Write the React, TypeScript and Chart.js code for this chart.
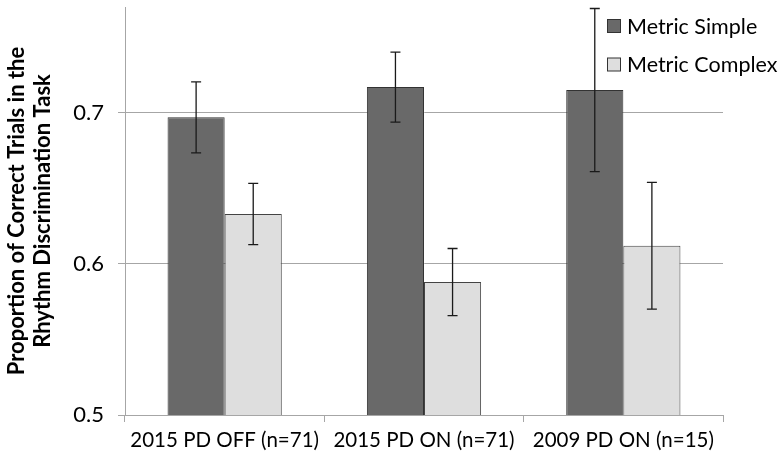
import React, { useEffect, useRef } from "react";
import { Chart, registerables } from "chart.js";

Chart.register(...registerables);

const categories = ["2015 PD OFF (n=71)", "2015 PD ON (n=71)", "2009 PD ON (n=15)"];
const seriesNames = ["Metric Simple", "Metric Complex"];
const simpleValues = [0.697, 0.717, 0.715];
const simpleErrors = [0.0235, 0.0232, 0.054];
const complexValues = [0.633, 0.588, 0.612];
const complexErrors = [0.0203, 0.0222, 0.042];
const yTicks = [0.5, 0.6, 0.7];
const yTitle = ["Proportion of Correct Trials in the", "Rhythm Discrimination Task"];

const FONT = "Lato, 'Liberation Sans', sans-serif";
const DARK = "#696969";
const LIGHT = "#dedede";

const errorBarPlugin = {
  id: "errorBars",
  afterDatasetsDraw(chart: any) {
    const ctx = chart.ctx;
    const errs = [simpleErrors, complexErrors];
    const y = chart.scales.y;
    ctx.save();
    ctx.strokeStyle = "#1a1a1a";
    ctx.lineWidth = 1.3;
    chart.data.datasets.forEach((ds: any, di: number) => {
      const meta = chart.getDatasetMeta(di);
      meta.data.forEach((bar: any, i: number) => {
        const v = ds.data[i];
        const e = errs[di][i];
        const top = y.getPixelForValue(v + e);
        const bot = y.getPixelForValue(v - e);
        const x = bar.x;
        ctx.beginPath();
        ctx.moveTo(x, top);
        ctx.lineTo(x, bot);
        ctx.moveTo(x - 5, top);
        ctx.lineTo(x + 5, top);
        ctx.moveTo(x - 5, bot);
        ctx.lineTo(x + 5, bot);
        ctx.stroke();
      });
    });
    ctx.restore();
  },
};

const legendPlugin = {
  id: "customLegend",
  afterDraw(chart: any) {
    const ctx = chart.ctx;
    const items = [
      { name: seriesNames[0], color: DARK },
      { name: seriesNames[1], color: LIGHT },
    ];
    ctx.save();
    ctx.font = `21.5px ${FONT}`;
    ctx.textBaseline = "middle";
    ctx.textAlign = "left";
    items.forEach((it, i) => {
      const yc = 26 + i * 38.5;
      ctx.fillStyle = it.color;
      ctx.fillRect(607.5, yc - 6.5, 13, 13);
      ctx.strokeStyle = "#333";
      ctx.lineWidth = 1;
      ctx.strokeRect(607.5, yc - 6.5, 13, 13);
      ctx.fillStyle = "#000";
      ctx.fillText(it.name, 627, yc + 1);
    });
    ctx.restore();
  },
};

export default function App() {
  const ref = useRef<HTMLCanvasElement | null>(null);
  useEffect(() => {
    if (!ref.current) return;
    const chart = new Chart(ref.current, {
      type: "bar",
      data: {
        labels: categories,
        datasets: [
          {
            label: seriesNames[0],
            data: simpleValues,
            backgroundColor: DARK,
            borderColor: "#333",
            borderWidth: 1,
            categoryPercentage: 0.573,
            barPercentage: 1,
          },
          {
            label: seriesNames[1],
            data: complexValues,
            backgroundColor: LIGHT,
            borderColor: "#444",
            borderWidth: 1,
            categoryPercentage: 0.573,
            barPercentage: 1,
          },
        ],
      },
      options: {
        animation: false,
        responsive: false,
        maintainAspectRatio: false,
        layout: { padding: { left: 0, right: 61, top: 7, bottom: 0 } },
        plugins: { legend: { display: false }, tooltip: { enabled: false } },
        scales: {
          x: {
            grid: {
              offset: true,
              drawOnChartArea: false,
              drawTicks: true,
              tickLength: 7,
              color: "#a6a6a6",
            },
            border: { color: "#a6a6a6", width: 1 },
            ticks: { color: "#000", font: { family: FONT, size: 20.5 }, padding: 6, maxRotation: 0 },
            afterFit: (s: any) => {
              s.height = 49;
              s.paddingLeft = 0;
              s.paddingRight = 0;
            },
          },
          y: {
            min: 0.5,
            max: 0.77,
            afterBuildTicks: (s: any) => {
              s.ticks = yTicks.map((v) => ({ value: v }));
            },
            grid: { color: "#a6a6a6", tickLength: 7, lineWidth: 1 },
            border: { color: "#a6a6a6", width: 1 },
            ticks: {
              color: "#000",
              font: { family: FONT, size: 22 },
              padding: 14,
              callback: (v: any) => Number(v).toFixed(1),
            },
            title: {
              display: true,
              text: yTitle,
              color: "#000",
              font: { family: FONT, size: 22, weight: "bold", lineHeight: 1.18 },
              padding: { top: 4, bottom: 0 },
            },
            afterFit: (s: any) => {
              s.width = 125;
              s.paddingTop = 0;
              s.paddingBottom = 0;
            },
          },
        },
      },
      plugins: [errorBarPlugin, legendPlugin],
    });
    return () => chart.destroy();
  }, []);
  return (
    <div style={{ position: "fixed", left: 0, top: 0, width: 784, height: 464, background: "#fff" }}>
      <canvas ref={ref} width={784} height={464} />
    </div>
  );
}
